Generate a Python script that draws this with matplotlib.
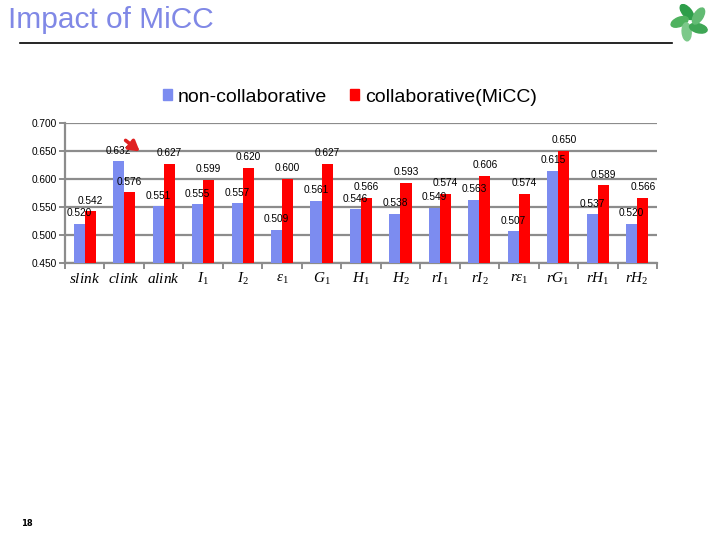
import matplotlib
matplotlib.use("Agg")
import matplotlib.pyplot as plt
import numpy as np
from matplotlib.patches import Ellipse
from matplotlib.lines import Line2D

plt.rcParams['mathtext.fontset'] = 'custom'
plt.rcParams['mathtext.rm'] = 'Liberation Serif'
plt.rcParams['mathtext.it'] = 'Liberation Serif:italic'

categories = [r"$slink$", r"$clink$", r"$alink$", r"$I_1$", r"$I_2$", r"$\varepsilon_1$",
              r"$G_1$", r"$H_1$", r"$H_2$", r"$rI_1$", r"$rI_2$", r"$r\varepsilon_1$",
              r"$rG_1$", r"$rH_1$", r"$rH_2$"]
non_collab = [0.520, 0.632, 0.551, 0.555, 0.557, 0.509, 0.561, 0.546, 0.538,
              0.549, 0.563, 0.507, 0.615, 0.537, 0.520]
collab = [0.542, 0.576, 0.627, 0.599, 0.620, 0.600, 0.627, 0.566, 0.593,
          0.574, 0.606, 0.574, 0.650, 0.589, 0.566]
yticks = [0.450, 0.500, 0.550, 0.600, 0.650, 0.700]
series_names = ["non-collaborative", "collaborative(MiCC)"]

BLUE = "#7c8cf0"
RED = "#ff0000"
GRID = "#8c8c8c"

W, H = 720, 540
fig = plt.figure(figsize=(7.2, 5.4), dpi=100)

def fx(px):
    return px / W

def fy(py):
    return 1 - py / H

# Title
fig.text(fx(8), fy(20), "Impact of MiCC", fontsize=21.5, color="#8088e6",
         family="Liberation Sans", ha="left", va="center")
fig.add_artist(Line2D([fx(20), fx(672)], [fy(43), fy(43)], color="black", lw=1.2))

# Logo (pinwheel)
lax = fig.add_axes([fx(670), fy(42), fx(40), 40 / H])
lax.set_xlim(-1, 1)
lax.set_ylim(-1, 1)
lax.set_aspect("equal")
lax.axis("off")
greens = ["#2e9e4a", "#4fb25f", "#7cc98a", "#3fa655", "#62bb73"]
for k in range(5):
    ang = np.deg2rad(90 + k * 72)
    cx, cy = 0.52 * np.cos(ang + 0.3), 0.52 * np.sin(ang + 0.3)
    lax.add_patch(Ellipse((cx, cy), 0.9, 0.45, angle=np.rad2deg(ang) + 40,
                          color=greens[k]))

# Chart axes
left, right, top, bottom = 65, 657, 123, 263
ax = fig.add_axes([fx(left), fy(bottom), fx(right - left), (bottom - top) / H])
n = len(categories)
x = np.arange(n)
bw = 0.28
b1 = ax.bar(x - bw / 2, non_collab, bw, color=BLUE, zorder=3)
b2 = ax.bar(x + bw / 2, collab, bw, color=RED, zorder=3)

for bars, vals in ((b1, non_collab), (b2, collab)):
    for r, v in zip(bars, vals):
        ax.annotate(f"{v:.3f}", (r.get_x() + r.get_width() / 2, v),
                    xytext=(0, 7.6), textcoords="offset points",
                    ha="center", va="center", fontsize=7.3,
                    family="Liberation Sans", zorder=5)

ax.set_xlim(-0.5, n - 0.5)
ax.set_ylim(0.45, 0.70)
ax.set_yticks(yticks)
ax.set_yticklabels([f"{t:.3f}" for t in yticks], fontsize=7.3, family="Liberation Sans")
ax.yaxis.grid(True, color=GRID, lw=1.6, zorder=0)
ax.set_axisbelow(True)
for s in ("top", "right"):
    ax.spines[s].set_visible(False)
for s in ("left", "bottom"):
    ax.spines[s].set_color(GRID)
    ax.spines[s].set_linewidth(1.6)
ax.tick_params(axis="y", length=4, width=1.4, color=GRID, pad=2)
ax.set_xticks(np.arange(n + 1) - 0.5)
ax.set_xticklabels([])
ax.tick_params(axis="x", which="major", length=4, width=1.4, color=GRID)
ax.set_xticks(x, minor=True)
ax.set_xticklabels(categories, minor=True, fontsize=11)
ax.tick_params(axis="x", which="minor", length=0, pad=6)

# Arrow decoration near clink
ax.annotate("", xy=(1.45, 0.646), xytext=(0.98, 0.672),
            arrowprops=dict(arrowstyle="-|>,head_length=0.6,head_width=0.35",
                            color="#e02020", lw=2.6), zorder=6)

# Legend
handles = [plt.Rectangle((0, 0), 1, 1, color=BLUE), plt.Rectangle((0, 0), 1, 1, color=RED)]
fig.legend(handles, series_names, loc="center", bbox_to_anchor=(fx(350), fy(97)),
           ncol=2, frameon=False, prop={"family": "Liberation Sans", "size": 14},
           handlelength=0.45, handleheight=0.45, handletextpad=0.3, columnspacing=1.2)

# Page number
fig.text(fx(27), fy(523), "18", fontsize=6, ha="center", va="center",
         family="DejaVu Sans", weight="bold")

fig.savefig("out.png", dpi=100)
